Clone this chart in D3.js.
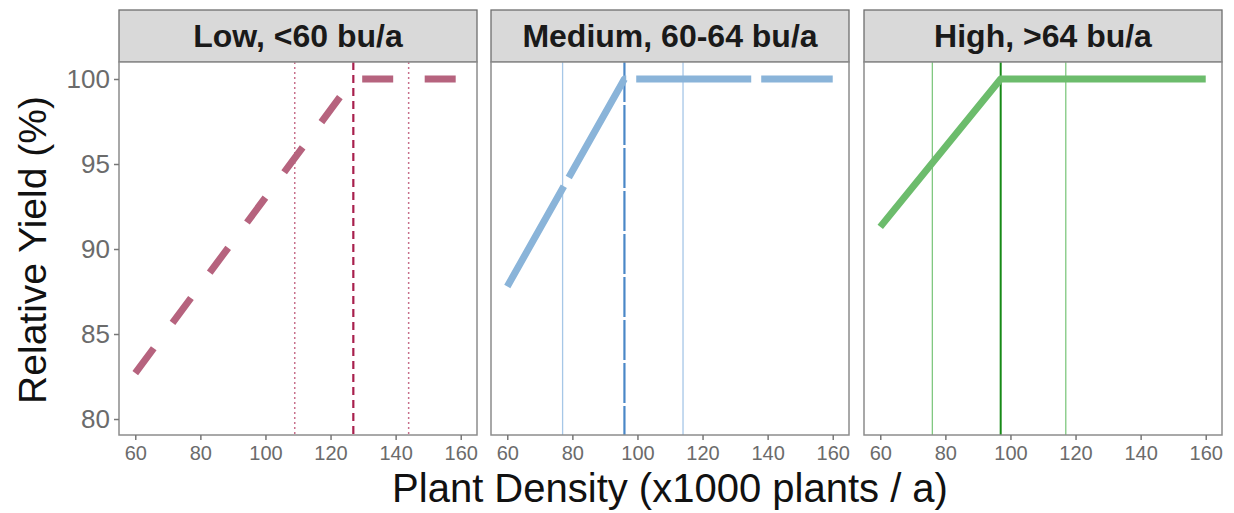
<!DOCTYPE html>
<html><head><meta charset="utf-8">
<script src="https://cdn.jsdelivr.net/npm/d3@7"></script>
<style>body{margin:0;background:#fff;} text{font-family:"Liberation Sans",Arial,sans-serif;}</style>
</head><body>
<svg id="c" width="1234" height="513"></svg>
<script>
// ---- data ----
const panels = ["Low, <60 bu/a", "Medium, 60-64 bu/a", "High, >64 bu/a"];
const lowLine = [[60, 82.7], [127, 100], [160, 100]];
const medLine = [[60, 87.8], [96, 100], [160, 100]];
const highLine = [[60, 91.3], [97, 100], [160, 100]];
const breakPoints = [127, 96, 97];
const ciLower = [109, 77, 76];
const ciUpper = [144, 114, 117];
const xTicks = [60, 80, 100, 120, 140, 160];
const yTicks = [80, 85, 90, 95, 100];

// ---- styles ----
const series = [lowLine, medLine, highLine];
const mainColor = ["#b6637e", "#8ab4d9", "#6cbc6c"];
const mainDash = ["31,31.5", "115,10", null];
const vColor = ["#a8204d", "#4a87c7", "#178a17"];
const vDash = ["8,5", "40,3", null];
const vWidth = [2.2, 2.2, 2];
const ciColor = ["#c8708c", "#a6c7e7", "#80c880"];
const ciDash = ["2,3", null, null];
const ciWidth = [1.5, 1.3, 1.3];

const svg = d3.select("#c");
const panelLeft = [119, 491, 864];
const panelW = 358;
const plotTop = 62, plotBottom = 435, stripTop = 10;

const y = d3.scaleLinear().domain([79.06, 101]).range([plotBottom, plotTop]);

panels.forEach((name, i) => {
  const L = panelLeft[i];
  const x = d3.scaleLinear().domain([55, 165]).range([L, L + panelW]);
  const g = svg.append("g");
  // strip
  g.append("rect").attr("x", L).attr("y", stripTop).attr("width", panelW).attr("height", plotTop - stripTop)
    .attr("fill", "#d9d9d9").attr("stroke", "#6e6e6e").attr("stroke-width", 1.3);
  g.append("text").attr("x", L + panelW / 2).attr("y", (stripTop + plotTop) / 2 + 11)
    .attr("text-anchor", "middle").attr("font-size", 32).attr("font-weight", "bold").attr("fill", "#1a1a1a").text(name);
  // panel bg
  g.append("rect").attr("x", L).attr("y", plotTop).attr("width", panelW).attr("height", plotBottom - plotTop).attr("fill", "#fff");
  const clipId = "clip" + i;
  svg.append("clipPath").attr("id", clipId).append("rect").attr("x", L).attr("y", plotTop).attr("width", panelW).attr("height", plotBottom - plotTop);
  const pg = g.append("g").attr("clip-path", `url(#${clipId})`);
  // CI lines
  [ciLower[i], ciUpper[i]].forEach(v => {
    pg.append("line").attr("x1", x(v)).attr("x2", x(v)).attr("y1", plotTop).attr("y2", plotBottom)
      .attr("stroke", ciColor[i]).attr("stroke-width", ciWidth[i]).attr("stroke-dasharray", ciDash[i]);
  });
  // breakpoint line
  pg.append("line").attr("x1", x(breakPoints[i])).attr("x2", x(breakPoints[i])).attr("y1", plotTop).attr("y2", plotBottom)
    .attr("stroke", vColor[i]).attr("stroke-width", vWidth[i]).attr("stroke-dasharray", vDash[i]);
  // main line
  const line = d3.line().x(d => x(d[0])).y(d => y(d[1]));
  pg.append("path").attr("d", line(series[i])).attr("fill", "none")
    .attr("stroke", mainColor[i]).attr("stroke-width", 7).attr("stroke-linejoin", "round")
    .attr("stroke-dasharray", mainDash[i]);
  // border
  g.append("rect").attr("x", L).attr("y", plotTop).attr("width", panelW).attr("height", plotBottom - plotTop)
    .attr("fill", "none").attr("stroke", "#8c8c8c").attr("stroke-width", 1.5);
  // x axis
  const xa = g.append("g").attr("transform", `translate(0,${plotBottom})`)
    .call(d3.axisBottom(x).tickValues(xTicks).tickSize(5).tickPadding(6).tickFormat(d3.format("d")));
  xa.select(".domain").remove();
  xa.selectAll("line").attr("stroke", "#777").attr("stroke-width", 1.5);
  xa.selectAll("text").attr("font-size", 20).attr("fill", "#6b6b6b").attr("font-family", "Liberation Sans, Arial, sans-serif");
  if (i === 0) {
    const ya = g.append("g").attr("transform", `translate(${L},0)`)
      .call(d3.axisLeft(y).tickValues(yTicks).tickSize(5).tickPadding(4));
    ya.select(".domain").remove();
    ya.selectAll("line").attr("stroke", "#777").attr("stroke-width", 1.5);
    ya.selectAll("text").attr("font-size", 26).attr("fill", "#6b6b6b").attr("font-family", "Liberation Sans, Arial, sans-serif");
  }
});

svg.append("text").attr("transform", "translate(46,250) rotate(-90)").attr("text-anchor", "middle")
  .attr("font-size", 39).attr("fill", "#111").text("Relative Yield (%)");
svg.append("text").attr("x", 670).attr("y", 502).attr("text-anchor", "middle")
  .attr("font-size", 40).attr("fill", "#111").text("Plant Density (x1000 plants / a)");
</script>
</body></html>
